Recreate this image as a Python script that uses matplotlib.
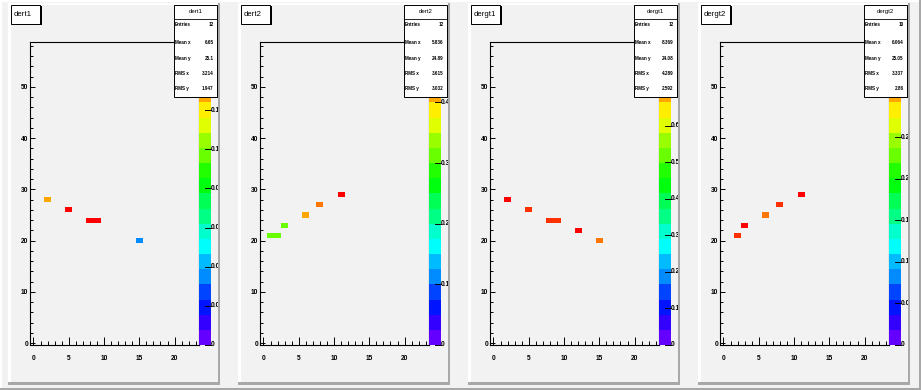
import colorsys

import numpy as np
import matplotlib
matplotlib.use("Agg")
import matplotlib.pyplot as plt
from matplotlib.colors import ListedColormap, BoundaryNorm
from matplotlib.patches import Rectangle
from matplotlib.lines import Line2D
from matplotlib.ticker import MultipleLocator, FixedLocator
from matplotlib.transforms import Bbox, TransformedBbox

W, H = 921, 390
FONT = "Liberation Sans"

# --- data -----------------------------------------------------------------
names = ["dert1", "dert2", "dergt1", "dergt2"]

dert1_x = [2, 5, 8, 9, 15]
dert1_y = [28, 26, 24, 24, 20]
dert1_z = [0.128, 0.154, 0.154, 0.154, 0.035]

dert2_x = [1, 2, 3, 6, 8, 11]
dert2_y = [21, 21, 23, 25, 27, 29]
dert2_z = [0.31, 0.31, 0.31, 0.41, 0.44, 0.495]

dergt1_x = [2, 5, 8, 9, 12, 15]
dergt1_y = [28, 26, 24, 24, 22, 20]
dergt1_z = [0.82, 0.77, 0.77, 0.77, 0.82, 0.72]

dergt2_x = [2, 3, 6, 8, 11]
dergt2_y = [21, 23, 25, 27, 29]
dergt2_z = [0.335, 0.36, 0.32, 0.335, 0.36]

z_max = [0.155, 0.5, 0.83, 0.365]
z_step = [0.02, 0.1, 0.1, 0.05]

entries = ["12", "12", "12", "10"]
mean_x = ["6.65", "5.836", "8.369", "6.064"]
mean_y = ["25.1", "24.89", "24.08", "25.05"]
rms_x = ["3.214", "3.615", "4.289", "3.337"]
rms_y = ["1.947", "3.032", "2.592", "2.86"]

x_ticks = [0, 5, 10, 15, 20]
y_ticks = [0, 10, 20, 30, 40, 50]

cells = [
    (dert1_x, dert1_y, dert1_z),
    (dert2_x, dert2_y, dert2_z),
    (dergt1_x, dergt1_y, dergt1_z),
    (dergt2_x, dergt2_y, dergt2_z),
]


def _root_palette(ncont=20, npretty=50):
    # old ROOT "pretty" palette (violet -> red), sampled like COLZ does
    pretty = []
    for i in range(npretty):
        hue = 280 - (i + 1) * (280.0 / npretty)
        pretty.append(colorsys.hls_to_rgb(hue / 360.0, 0.5, 1.0))
    return [pretty[min(int((j + 0.99) * npretty / ncont), npretty - 1)] for j in range(ncont)]


def fx(px):
    return px / W


def fy(py):
    return 1 - py / H


def px_rect(fig, x0, y0, x1, y1, **kw):
    r = Rectangle((fx(x0), fy(y1)), (x1 - x0) / W, (y1 - y0) / H,
                  transform=fig.transFigure, **kw)
    fig.add_artist(r)
    return r


def px_line(fig, xs, ys, **kw):
    l = Line2D([fx(x) for x in xs], [fy(y) for y in ys], transform=fig.transFigure, **kw)
    fig.add_artist(l)
    return l


cmap = ListedColormap(_root_palette())
xedges = np.arange(-0.5, 24.5, 1)
yedges = np.arange(-0.5, 60.5, 1)

fig = plt.figure(figsize=(W / 100, H / 100), dpi=100, facecolor="#f2f2f2")

# canvas bevel
px_rect(fig, 0, 0, W, 1.5, facecolor="white", edgecolor="none", zorder=-2)
px_rect(fig, 0, 0, 1.5, H, facecolor="white", edgecolor="none", zorder=-2)
px_rect(fig, 0, 387.5, W, H, facecolor="#a8a8a8", edgecolor="none", zorder=-2)
px_rect(fig, 918.5, 0, W, H, facecolor="#a8a8a8", edgecolor="none", zorder=-2)

frame_l, frame_r, frame_t, frame_b = 30.3, 199.3, 41.7, 345.0
bar_r = 210.7
stats_bottom = 98.0

for i, name in enumerate(names):
    ox = 230 * i
    xs, ys, zs = cells[i]
    zmax = z_max[i]
    norm = BoundaryNorm(np.linspace(0, zmax, 21), cmap.N)

    # pad with raised bevel
    px_rect(fig, ox + 8, 3, ox + 220, 385, facecolor="#f2f2f2", edgecolor="none", zorder=-1.5)
    px_rect(fig, ox + 8, 3, ox + 10.5, 385, facecolor="white", edgecolor="none", zorder=-1)
    px_rect(fig, ox + 8, 3, ox + 220, 5, facecolor="white", edgecolor="none", zorder=-1)
    px_rect(fig, ox + 217.5, 3, ox + 220, 385, facecolor="#a8a8a8", edgecolor="none", zorder=-1)
    px_rect(fig, ox + 8, 382, ox + 220, 385, facecolor="#a8a8a8", edgecolor="none", zorder=-1)

    # frame with the 2D histogram
    ax = fig.add_axes([fx(ox + frame_l), fy(frame_b),
                       (frame_r - frame_l) / W, (frame_b - frame_t) / H])
    ax.set_facecolor("#f2f2f2")
    grid = np.zeros((len(yedges) - 1, len(xedges) - 1))
    for x, y, z in zip(xs, ys, zs):
        grid[y, x] += z
    ax.pcolormesh(xedges, yedges, np.ma.masked_equal(grid, 0), cmap=cmap, norm=norm)
    ax.set_xlim(-0.45, 23.5)
    ax.set_ylim(-0.35, 58.8)
    ax.xaxis.set_major_locator(FixedLocator(x_ticks))
    ax.xaxis.set_minor_locator(MultipleLocator(1))
    ax.yaxis.set_major_locator(FixedLocator(y_ticks))
    ax.yaxis.set_minor_locator(MultipleLocator(2))
    ax.tick_params(axis="x", which="major", direction="in", length=6.0, width=0.7, pad=7.0)
    ax.tick_params(axis="x", which="minor", direction="in", length=3.0, width=0.7)
    ax.tick_params(axis="y", which="major", direction="in", length=3.4, width=0.7, pad=1.6)
    ax.tick_params(axis="y", which="minor", direction="in", length=1.8, width=0.7)
    ax.tick_params(which="both", top=False, right=False)
    for lab in ax.get_xticklabels() + ax.get_yticklabels():
        lab.set_fontfamily(FONT)
        lab.set_fontsize(4.8)
        lab.set_fontweight("bold")
    for sp in ax.spines.values():
        sp.set_linewidth(0.8)

    # colour palette bar
    cax = fig.add_axes([fx(ox + frame_r), fy(frame_b),
                        (bar_r - frame_r) / W, (frame_b - frame_t) / H])
    levels = np.linspace(0, zmax, 21)
    mids = ((levels[:-1] + levels[1:]) / 2).reshape(-1, 1)
    cax.pcolormesh([0, 1], levels, mids, cmap=cmap, norm=norm)
    cax.set_xlim(0, 1)
    cax.set_ylim(0, zmax)
    cax.axis("off")

    pad_clip = TransformedBbox(Bbox.from_extents(fx(ox + 8), fy(385), fx(ox + 218), fy(3)),
                               fig.transFigure)
    ticks = np.arange(0, zmax + 1e-9, z_step[i])
    for t in ticks:
        cax.plot([0.5, 1.0], [t, t], color="black", lw=0.7, clip_on=False)
        ty_px = frame_b - (t / zmax) * (frame_b - frame_t)
        if ty_px < stats_bottom + 3:
            continue  # hidden behind the stats box
        label = "0" if t == 0 else ("%g" % round(t, 3))
        txt = fig.text(fx(ox + bar_r + 0.5), fy(ty_px), label, ha="left", va="center",
                       fontsize=4.8, fontweight="bold", fontfamily=FONT, zorder=2)
        txt.set_clip_box(pad_clip)
        txt.set_clip_on(True)

    # title box
    px_rect(fig, ox + 12.5, 6.2, ox + 41.5, 25.3, facecolor="black", edgecolor="none", zorder=4)
    px_rect(fig, ox + 11.3, 5, ox + 40.3, 24, facecolor="white", edgecolor="black", lw=0.7, zorder=4.5)
    fig.text(fx(ox + 13.3), fy(14.5), name, ha="left", va="center", fontsize=5.6,
             fontfamily=FONT, zorder=5)

    # stats box
    px_rect(fig, ox + 175.5, 6, ox + 218, stats_bottom, facecolor="black", edgecolor="none", zorder=4)
    px_rect(fig, ox + 174.3, 4.7, ox + 216.6, 96.7, facecolor="white", edgecolor="black", lw=0.7, zorder=4.5)
    px_line(fig, [ox + 174.3, ox + 216.6], [19.3, 19.3], color="black", lw=0.6, zorder=5)
    fig.text(fx(ox + 195.5), fy(11.8), name, ha="center", va="center", fontsize=4.4,
             fontfamily=FONT, zorder=5)
    rows = [("Entries", entries[i]), ("Mean x", mean_x[i]), ("Mean y", mean_y[i]),
            ("RMS x", rms_x[i]), ("RMS y", rms_y[i])]
    for (k, v), ry in zip(rows, [25.0, 42.2, 58.2, 73.5, 88.5]):
        fig.text(fx(ox + 175.2), fy(ry), k, ha="left", va="center", fontsize=3.3,
                 fontweight="bold", fontfamily=FONT, zorder=5)
        fig.text(fx(ox + 213.5), fy(ry), v, ha="right", va="center", fontsize=3.3,
                 fontweight="bold", fontfamily=FONT, zorder=5)

fig.savefig("out.png", dpi=100, facecolor=fig.get_facecolor())
